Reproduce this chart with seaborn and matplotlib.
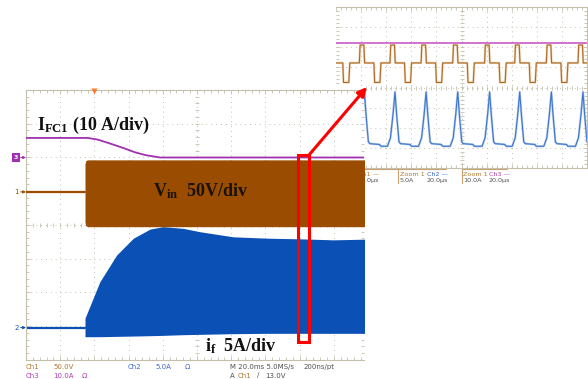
"""
示波器截图复刻：主窗口（20 ms/div）与右上角放大窗口（20 us/div）
"""
import numpy as np
import pandas as pd
import matplotlib
matplotlib.use("Agg")
import matplotlib.pyplot as plt
from matplotlib.patches import Rectangle, FancyArrowPatch
import seaborn as sns

sns.set_theme(style="white")
plt.rcParams['font.family'] = ['DejaVu Sans']
plt.rcParams['mathtext.fontset'] = 'custom'
plt.rcParams['mathtext.rm'] = 'Liberation Serif:bold'
plt.rcParams['mathtext.it'] = 'Liberation Serif:bold'
plt.rcParams['mathtext.bf'] = 'Liberation Serif:bold'

# --- 主窗口数据（单位：格，x 0..10，y -4..4）---
SWITCH_ON = 1.725
TRIG_POS = 2.0
CH3_REF, CH1_REF, CH2_REF = 2.0, 0.98, -3.04

FC1_T = [0.0, 1.81, 2.1, 2.5, 2.85, 3.2, 3.5, 3.92, 9.9]
FC1_V = [2.58, 2.58, 2.53, 2.40, 2.28, 2.15, 2.07, 2.0, 2.0]

VIN_T = [SWITCH_ON, 1.75, 1.80, 9.9]
VIN_HI = [1.80, 1.91, 1.93, 1.93]
VIN_LO = [0.08, -0.02, -0.05, -0.05]

IF_T = [SWITCH_ON, 2.16, 2.65, 3.14, 3.63, 4.01, 4.60, 5.09, 6.06, 7.04, 8.01, 8.99, 9.9]
IF_HI = [-2.76, -1.68, -0.89, -0.39, -0.12, -0.05, -0.10, -0.20, -0.35, -0.39, -0.41, -0.44, -0.42]
IF_LO = [-3.31, -3.31, -3.30, -3.29, -3.28, -3.27, -3.25, -3.24, -3.22, -3.21, -3.21, -3.21, -3.21]

# --- 放大窗口数据：每个开关周期的起点 + 单周期波形 ---
ZOOM_T0 = [-0.31, 0.93, 2.15, 3.39, 4.65, 5.92, 7.12, 8.38, 9.64]
ZOOM_CH3 = 2.19
ZVIN_OFF = [0.0, 0.03, 0.18, 0.21, 0.58, 0.61, 0.82, 0.86]
ZVIN_LVL = [1.22, 2.11, 2.11, 1.22, 1.22, 0.25, 0.25, 1.22]
ZIF_OFF = [-0.10, 0.02, 0.12, 0.20, 0.27, 0.36, 0.42, 0.80, 0.86]
ZIF_LVL = [-2.92, -2.50, -1.35, -0.22, -1.40, -2.70, -2.79, -2.83, -2.92]

# 颜色
BROWN = '#9a4d00'
BLUE = '#0b50b4'
PURPLE = '#a030b0'
GRID_C = '#c4c0ac'
CH1_TXT = '#b0782c'
CH2_TXT = '#3a66cc'
CH3_TXT = '#b03cb0'
GRAY_TXT = '#505050'
RED = '#ff0000'

W, H = 588, 379
fig = plt.figure(figsize=(W / 100, H / 100), dpi=100)
fig.patch.set_facecolor('white')


def fig_box(x0, y0, x1, y1):
    """像素框（左上为原点）转 figure 坐标"""
    return [x0 / W, 1 - y1 / H, (x1 - x0) / W, (y1 - y0) / H]


def draw_graticule(ax, xmax, tick_ms=3):
    for d in range(1, 10):
        if d < xmax:
            ax.axvline(d, color=GRID_C, lw=0.7, ls=(0, (1, 4)), zorder=0)
    for v in range(-3, 4):
        ax.axhline(v, color=GRID_C, lw=0.7, ls=(0, (1, 4)), zorder=0)
    xs = np.arange(0.2, xmax, 0.2)
    ax.plot(xs, np.zeros_like(xs), ls='none', marker='|', ms=tick_ms, mew=0.6, color=GRID_C, zorder=0)
    ys = np.arange(-3.8, 4.0, 0.2)
    ax.plot(np.full_like(ys, 5.0), ys, ls='none', marker='_', ms=tick_ms, mew=0.6, color=GRID_C, zorder=0)
    ax.set_xticks(range(0, 11))
    ax.set_xticks(np.arange(0, 10.01, 0.2), minor=True)
    ax.set_yticks(range(-4, 5))
    ax.set_yticks(np.arange(-4, 4.01, 0.2), minor=True)
    ax.tick_params(which='both', bottom=True, top=True, left=True, right=True, direction='in',
                   color=GRID_C, width=0.6, labelbottom=False, labelleft=False)
    ax.tick_params(which='major', length=3)
    ax.tick_params(which='minor', length=2)
    ax.set_xlabel('')
    ax.set_ylabel('')
    for sp in ax.spines.values():
        sp.set_color(GRID_C)
        sp.set_linewidth(0.8)


# ================= 放大窗口 =================
ax_in = fig.add_axes(fig_box(336, 7, 587, 168), zorder=1)
ax_in.set_xlim(0, 10)
ax_in.set_ylim(-4, 4)
draw_graticule(ax_in, 10, tick_ms=2.5)
ax_in.spines['left'].set_visible(False)

zvin_t, zvin_v, zif_t, zif_v = [], [], [], []
for t0 in ZOOM_T0:
    zvin_t += [t0 + o for o in ZVIN_OFF]
    zvin_v += ZVIN_LVL
    zif_t += [t0 + o for o in ZIF_OFF]
    zif_v += ZIF_LVL
zvin = pd.DataFrame({'t': zvin_t, 'v': zvin_v})
zif = pd.DataFrame({'t': zif_t, 'v': zif_v})

ax_in.axhline(ZOOM_CH3, color='#c85ac8', lw=1.2, zorder=2)
sns.lineplot(data=zvin, x='t', y='v', sort=False, estimator=None, color='#ecd2b0', lw=1.6, ax=ax_in)
sns.lineplot(data=zvin, x='t', y='v', sort=False, estimator=None, color='#b06a28', lw=0.8, ax=ax_in)
sns.lineplot(data=zif, x='t', y='v', sort=False, estimator=None, color='#b4ccf0', lw=1.6, ax=ax_in)
sns.lineplot(data=zif, x='t', y='v', sort=False, estimator=None, color='#3f76cc', lw=0.8, ax=ax_in)
ax_in.set_xlim(0, 10)
ax_in.set_ylim(-4, 4)
ax_in.set_xlabel('')
ax_in.set_ylabel('')

# 放大窗口下方读数
def ftxt(ax, x, y, s, c, size=4.6):
    ax.text(x / W, 1 - y / H, s, color=c, fontsize=size, ha='left', va='center',
            transform=fig.transFigure, clip_on=False)


for x0, x1 in [(357, 446), (461.5, 507)]:
    ax_in.plot([x0 / W, x1 / W], [1 - 169.2 / H] * 2, color='#c8a070', lw=0.8,
               transform=fig.transFigure, clip_on=False)
for xv in [398, 461.5]:
    ax_in.plot([xv / W] * 2, [1 - 169.2 / H, 1 - 182.5 / H], color='#c8a070', lw=0.8,
               transform=fig.transFigure, clip_on=False)
ftxt(ax_in, 358, 174, 'Ch1 —', CH1_TXT)
ftxt(ax_in, 358, 181, '20.0µs', GRAY_TXT)
ftxt(ax_in, 400, 174, 'Zoom 1', CH1_TXT)
ftxt(ax_in, 427, 174, 'Ch2 —', CH2_TXT)
ftxt(ax_in, 400, 181, '5.0A', GRAY_TXT)
ftxt(ax_in, 427, 181, '20.0µs', GRAY_TXT)
ftxt(ax_in, 463, 174, 'Zoom 1', CH1_TXT)
ftxt(ax_in, 489, 174, 'Ch3 —', CH3_TXT)
ftxt(ax_in, 463, 181, '10.0A', GRAY_TXT)
ftxt(ax_in, 489, 181, '20.0µs', GRAY_TXT)

# 主窗口截图的白色底，盖住放大窗口的左下角
ax_in.add_patch(Rectangle((0, 0), 364 / W, 1 - 86 / H, transform=fig.transFigure,
                          facecolor='white', edgecolor='none', zorder=10, clip_on=False))

# ================= 主窗口 =================
XMAX = (364 - 26) / 34.2
ax_main = fig.add_axes(fig_box(26, 90, 364, 360), zorder=3)
ax_main.set_facecolor('white')
draw_graticule(ax_main, XMAX, tick_ms=3.5)
ax_main.spines['right'].set_visible(False)

fc1 = pd.DataFrame({'t': FC1_T, 'v': FC1_V})
sns.lineplot(data=fc1, x='t', y='v', sort=False, estimator=None, color=PURPLE, lw=1.3, ax=ax_main, zorder=4)

ax_main.plot([0, SWITCH_ON], [CH1_REF, CH1_REF], color=BROWN, lw=1.6, zorder=3)
ax_main.fill_between(VIN_T, VIN_LO, VIN_HI, color=BROWN, lw=0, zorder=3)
ax_main.plot([0, SWITCH_ON], [CH2_REF, CH2_REF], color=BLUE, lw=1.6, zorder=2)
ax_main.fill_between(IF_T, IF_LO, IF_HI, color=BLUE, lw=0, zorder=2)

ax_main.set_xlim(0, XMAX)
ax_main.set_ylim(-4, 4)
ax_main.set_xlabel('')
ax_main.set_ylabel('')

# 触发位置与通道零点标记
ax_main.plot(TRIG_POS, 3.96, marker='v', ms=4.5, color='#ff7a2a', mec='none', clip_on=False, zorder=6)
ax_main.text(-0.29, CH3_REF, '3', color='white', fontsize=4.5, fontweight='bold', ha='center', va='center',
             bbox=dict(boxstyle='square,pad=0.25', fc=PURPLE, ec='none'), clip_on=False)
for ref, c, lab in [(CH3_REF, PURPLE, None), (CH1_REF, BROWN, '1'), (CH2_REF, BLUE, '2')]:
    ax_main.annotate('', xy=(0, ref), xytext=(-0.16, ref), annotation_clip=False,
                     arrowprops=dict(arrowstyle='-|>', color=c, lw=0.7, mutation_scale=4,
                                     shrinkA=0, shrinkB=0))
    if lab:
        ax_main.text(-0.27, ref, lab, color=c, fontsize=5, ha='center', va='center', clip_on=False)

# ================= 顶层：文字标注与红色框 =================
ax_top = fig.add_axes([0, 0, 1, 1], zorder=5)
ax_top.set_xlim(0, W)
ax_top.set_ylim(H, 0)
ax_top.axis('off')

serif = dict(fontfamily='Liberation Serif', fontweight='bold', fontsize=13, ha='left', va='baseline')
ax_top.text(37, 130, r'I$_{\mathrm{FC1}}$ (10 A/div)', color='#111111', **serif)
ax_top.text(153, 196.5, r'V$_{\mathrm{in}}$  50V/div', color='#1a1208', **serif)
ax_top.text(205, 351.5, r'i$_{\mathrm{f}}$  5A/div', color='#111111', **serif)

ax_top.add_patch(Rectangle((297.5, 154.5), 11.5, 187, fill=False, ec=RED, lw=2.2))
ax_top.add_patch(FancyArrowPatch((309, 155), (367, 87), arrowstyle='-|>', mutation_scale=13,
                                 lw=2.2, color=RED, shrinkA=0, shrinkB=0))

# 主窗口下方读数
row1, row2 = 367, 375.5
for s, x, c in [('Ch1', 26, CH1_TXT), ('50.0V', 53, CH1_TXT), ('Ch2', 128, CH2_TXT),
                ('5.0A', 155, CH2_TXT), ('Ω', 185, CH2_TXT), ('M 20.0ms 5.0MS/s', 230, GRAY_TXT),
                ('200ns/pt', 304, GRAY_TXT)]:
    ax_top.text(x, row1, s, color=c, fontsize=5, ha='left', va='center')
for s, x, c in [('Ch3', 26, CH3_TXT), ('10.0A', 53, CH3_TXT), ('Ω', 82, CH3_TXT),
                ('A', 230, GRAY_TXT), ('Ch1', 238, CH1_TXT), ('/', 257, GRAY_TXT),
                ('13.0V', 265, GRAY_TXT)]:
    ax_top.text(x, row2, s, color=c, fontsize=5, ha='left', va='center')

fig.savefig('out.png', dpi=100, facecolor='white')
plt.close(fig)
